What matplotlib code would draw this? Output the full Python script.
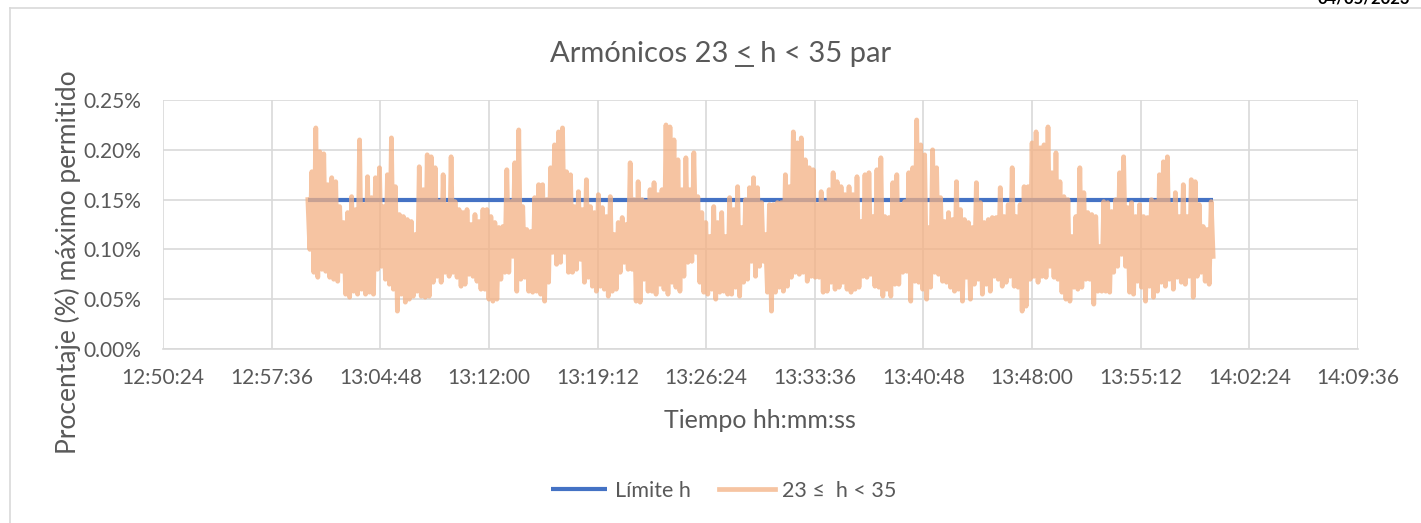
import matplotlib
matplotlib.use("Agg")
import matplotlib.pyplot as plt
from matplotlib.lines import Line2D
from matplotlib.ticker import FuncFormatter
import numpy as np

plt.rcParams["font.family"] = ["Lato", "DejaVu Sans"]

TEXT = "#595959"
GRID = "#D9D9D9"
BLUE = "#4472C4"
ORANGE = "#F4B183"
W, H = 1421, 523


def to_sec(hms):
    h, m, s = (int(p) for p in hms.split(":"))
    return h * 3600 + m * 60 + s


def fmt_hms(v, _pos=None):
    v = int(round(v))
    return f"{v // 3600:02d}:{(v % 3600) // 60:02d}:{v % 60:02d}"


# x axis ticks (Excel major unit 7:12)
x_ticks = ["12:50:24", "12:57:36", "13:04:48", "13:12:00", "13:19:12", "13:26:24",
           "13:33:36", "13:40:48", "13:48:00", "13:55:12", "14:02:24", "14:09:36"]
y_ticks = [0.00, 0.05, 0.10, 0.15, 0.20, 0.25]

# measurement window
serie_inicio = "13:00:00"
serie_fin = "14:00:00"

# Límite h (%)
limite_t = ["13:00:00", "14:00:00"]
limite_val = [0.15, 0.15]

# 23 <= h < 35, % of allowed maximum (peak/trough pairs)
armonicos = [
    0.150, 0.100, 0.178, 0.077, 0.222, 0.072, 0.198, 0.080, 0.196, 0.078, 0.165, 0.072, 0.172, 0.070, 0.168, 0.068, 0.143, 0.078, 0.127, 0.055,
    0.137, 0.052, 0.153, 0.058, 0.140, 0.055, 0.210, 0.060, 0.145, 0.055, 0.173, 0.057, 0.152, 0.055, 0.172, 0.080, 0.182, 0.083, 0.143, 0.070,
    0.175, 0.065, 0.212, 0.060, 0.163, 0.038, 0.135, 0.055, 0.133, 0.047, 0.130, 0.050, 0.128, 0.053, 0.115, 0.058, 0.183, 0.053, 0.160, 0.052,
    0.195, 0.053, 0.193, 0.067, 0.182, 0.073, 0.148, 0.067, 0.175, 0.077, 0.145, 0.073, 0.193, 0.077, 0.148, 0.072, 0.140, 0.063, 0.137, 0.065,
    0.140, 0.075, 0.125, 0.073, 0.135, 0.068, 0.128, 0.060, 0.140, 0.060,
    0.140, 0.050, 0.133, 0.048, 0.127, 0.050, 0.122, 0.070, 0.123, 0.077, 0.180, 0.077, 0.148, 0.093, 0.187, 0.058, 0.220, 0.070, 0.143, 0.072,
    0.120, 0.058, 0.118, 0.057, 0.152, 0.058, 0.165, 0.055, 0.165, 0.048, 0.150, 0.067, 0.182, 0.097, 0.205, 0.085, 0.218, 0.087, 0.222, 0.097,
    0.178, 0.077, 0.175, 0.077, 0.143, 0.080, 0.158, 0.090, 0.140, 0.067, 0.170, 0.072, 0.143, 0.063, 0.137, 0.058, 0.155, 0.063, 0.142, 0.060,
    0.133, 0.053, 0.153, 0.058, 0.115, 0.060, 0.127, 0.077, 0.132, 0.087, 0.125, 0.080, 0.187, 0.080, 0.150, 0.048, 0.168, 0.047, 0.150, 0.070,
    0.148, 0.058, 0.160, 0.058, 0.167, 0.055, 0.155, 0.065, 0.160, 0.060, 0.225, 0.055,
    0.223, 0.067, 0.210, 0.062, 0.190, 0.058, 0.160, 0.073, 0.192, 0.087, 0.160, 0.088, 0.197, 0.097, 0.153, 0.067, 0.137, 0.057, 0.127, 0.055,
    0.113, 0.060, 0.143, 0.050, 0.127, 0.057, 0.137, 0.058, 0.113, 0.055, 0.152, 0.055, 0.140, 0.062, 0.163, 0.053, 0.122, 0.067, 0.150, 0.070,
    0.162, 0.088, 0.172, 0.073, 0.162, 0.083, 0.147, 0.088, 0.115, 0.057, 0.145, 0.038, 0.145, 0.057, 0.147, 0.062, 0.147, 0.058, 0.175, 0.063,
    0.163, 0.072, 0.218, 0.077, 0.207, 0.075, 0.212, 0.077, 0.190, 0.068, 0.182, 0.073, 0.180, 0.072, 0.145, 0.072, 0.158, 0.057, 0.147, 0.058,
    0.160, 0.067, 0.177, 0.060, 0.168, 0.062, 0.163, 0.067, 0.155, 0.060, 0.163, 0.057, 0.155, 0.060,
    0.173, 0.062, 0.128, 0.073, 0.175, 0.072, 0.177, 0.075, 0.133, 0.063, 0.180, 0.062, 0.192, 0.053, 0.133, 0.060, 0.132, 0.053, 0.167, 0.065,
    0.175, 0.065, 0.145, 0.077, 0.148, 0.078, 0.177, 0.048, 0.182, 0.068, 0.230, 0.067, 0.205, 0.060, 0.195, 0.050, 0.122, 0.062, 0.200, 0.077,
    0.182, 0.075, 0.152, 0.068, 0.128, 0.067, 0.137, 0.062, 0.130, 0.058, 0.168, 0.060, 0.140, 0.048, 0.130, 0.072, 0.127, 0.050, 0.122, 0.065,
    0.167, 0.070, 0.147, 0.055, 0.127, 0.065, 0.130, 0.058, 0.132, 0.073, 0.132, 0.070, 0.162, 0.063, 0.133, 0.067, 0.145, 0.073, 0.182, 0.063,
    0.133, 0.062, 0.145, 0.038, 0.163, 0.043, 0.163, 0.070, 0.207, 0.073, 0.218, 0.067,
    0.202, 0.073, 0.205, 0.072, 0.223, 0.083, 0.177, 0.072, 0.197, 0.070, 0.168, 0.057, 0.153, 0.050, 0.150, 0.048, 0.113, 0.062, 0.133, 0.060,
    0.182, 0.062, 0.157, 0.070, 0.137, 0.070, 0.135, 0.045, 0.133, 0.058, 0.103, 0.058, 0.148, 0.058, 0.147, 0.057, 0.138, 0.077, 0.150, 0.083,
    0.177, 0.095, 0.193, 0.083, 0.142, 0.057, 0.147, 0.055, 0.133, 0.068, 0.145, 0.062, 0.133, 0.048, 0.132, 0.063, 0.150, 0.052, 0.148, 0.058,
    0.175, 0.067, 0.188, 0.063, 0.193, 0.070, 0.145, 0.060, 0.157, 0.072, 0.133, 0.067, 0.165, 0.065, 0.133, 0.073, 0.170, 0.052, 0.168, 0.073,
    0.145, 0.077, 0.123, 0.068, 0.120, 0.065, 0.148, 0.093,
]

t_arm = np.linspace(to_sec(serie_inicio), to_sec(serie_fin), len(armonicos))

fig = plt.figure(figsize=(W / 100, H / 100), dpi=100)
ax = fig.add_axes([163 / W, 1 - 349 / H, (1358 - 163) / W, (349 - 100) / H])

ax.plot([to_sec(t) for t in limite_t], limite_val, color=BLUE, lw=3.0,
        solid_capstyle="butt", label="Límite h", zorder=2)
ax.plot(t_arm, armonicos, color=ORANGE, lw=3.4, alpha=0.75,
        solid_joinstyle="round", label="23 \u2264  h < 35", zorder=3)

xt = [to_sec(t) for t in x_ticks]
ax.set_xlim(xt[0], xt[-1])
ax.set_ylim(y_ticks[0], y_ticks[-1])
ax.set_xticks(xt)
ax.set_yticks(y_ticks)
ax.xaxis.set_major_formatter(FuncFormatter(fmt_hms))
ax.yaxis.set_major_formatter(FuncFormatter(lambda v, p: f"{v:.2f}%"))
ax.tick_params(length=0, labelsize=15, colors=TEXT)
ax.tick_params(axis="x", pad=14)
ax.tick_params(axis="y", pad=16)
ax.grid(True, color=GRID, lw=1.2, zorder=0)
ax.set_axisbelow(True)
for side in ("top", "right", "left"):
    ax.spines[side].set_visible(False)
ax.spines["bottom"].set_color(GRID)
ax.spines["bottom"].set_linewidth(1.2)

# title, with the first "<" underlined (reads as <=)
title_pre = "Armónicos 23 <"
title = title_pre + " h < 35 par"
title_size = 21
ttl = fig.text(721 / W, 1 - 62 / H, title, ha="center", va="baseline",
               fontsize=title_size, color=TEXT)
renderer = fig.canvas.get_renderer()
full_w = ttl.get_window_extent(renderer).width
probe = fig.text(0, 0, title_pre, fontsize=title_size)
pre_w = probe.get_window_extent(renderer).width
probe.set_text("<")
lt_w = probe.get_window_extent(renderer).width
probe.remove()
x_left = 721 - full_w / 2
ul_y = 1 - 66 / H
fig.add_artist(Line2D([(x_left + pre_w - lt_w) / W, (x_left + pre_w) / W], [ul_y, ul_y],
                      color=TEXT, lw=1.4))

fig.text(760 / W, 1 - 421 / H, "Tiempo hh:mm:ss",
         ha="center", va="center", fontsize=18, color=TEXT)
fig.text(68 / W, 1 - 262 / H, "Procentaje (%) máximo permitido",
         ha="center", va="center", rotation=90, fontsize=19, color=TEXT)

fig.legend(loc="center", bbox_to_anchor=(724 / W, 1 - 491 / H), ncol=2,
           frameon=False, fontsize=15.5, handlelength=2.6, columnspacing=1.3,
           handletextpad=0.35, labelcolor=TEXT)

# chart frame and clipped header date
fig.add_artist(Line2D([10 / W, 1], [1 - 8 / H] * 2, color=GRID, lw=1.2))
fig.add_artist(Line2D([10 / W] * 2, [0, 1 - 8 / H], color=GRID, lw=1.2))
fig.text(1410 / W, 1 + 2 / H, "04/05/2023", ha="right", va="center",
         fontsize=12, fontweight="bold", color="#000000")

fig.savefig("out.png", dpi=100)
